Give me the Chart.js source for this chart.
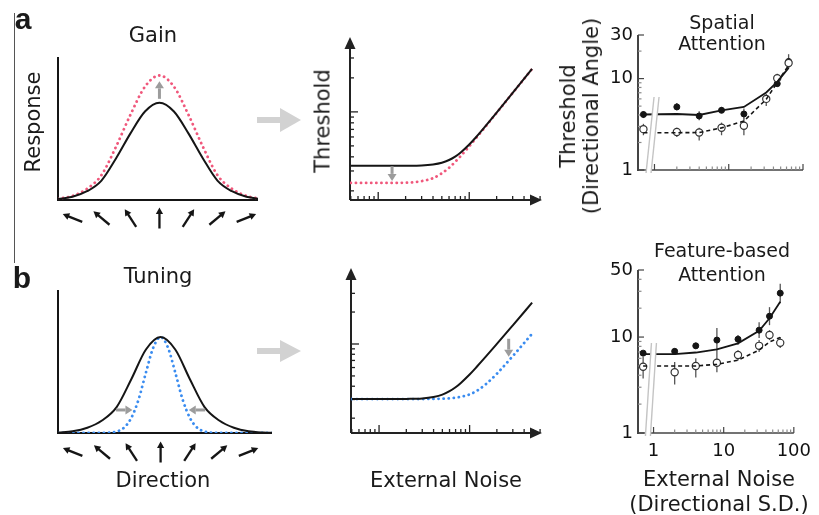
<!DOCTYPE html>
<html><head><meta charset="utf-8">
<script src="https://cdn.jsdelivr.net/npm/chart.js@4.4.1/dist/chart.umd.min.js"></script>
<style>
html,body{margin:0;padding:0;background:#fff;}
#wrap{position:relative;width:819px;height:515px;overflow:hidden;font-family:"DejaVu Sans",sans-serif;color:#1a1a1a;}
canvas{position:absolute;left:0;top:0;}
svg{position:absolute;left:0;top:0;}
.t{position:absolute;white-space:nowrap;transform:translate(-50%,-50%);line-height:1;font-size:21px;}
.s{font-size:19px;}
.r{transform:translate(-50%,-50%) rotate(-90deg);}
.p{font-family:"Liberation Sans",Arial,sans-serif;font-weight:bold;font-size:30px;}
.two{line-height:23px;text-align:center;}
</style></head><body><div id="wrap">
<svg width="819" height="515">
  <line x1="14.5" y1="13" x2="14.5" y2="263" stroke="#555" stroke-width="1"/>
  <polygon points="257,117 280,117 280,108 301,120 280,132 280,123 257,123" fill="#d2d2d2"/>
  <polygon points="257,348 280,348 280,340 301,351 280,362 280,354 257,354" fill="#d2d2d2"/>
</svg>
<canvas id="a1" width="819" height="515"></canvas>
<canvas id="b1" width="819" height="515"></canvas>
<canvas id="a2" width="819" height="515"></canvas>
<canvas id="b2" width="819" height="515"></canvas>
<canvas id="a3" width="819" height="515"></canvas>
<canvas id="b3" width="819" height="515"></canvas>

<div class="t p" style="left:23px;top:19px;">a</div>
<div class="t p" style="left:22px;top:278px;">b</div>
<div class="t" style="left:153px;top:35px;">Gain</div>
<div class="t r" style="left:33px;top:122px;">Response</div>
<div class="t r" style="left:323px;top:121px;">Threshold</div>
<div class="t s" style="left:722px;top:22px;">Spatial</div>
<div class="t s" style="left:722px;top:43px;">Attention</div>
<div class="t r two" style="left:580px;top:116px;">Threshold<br>(Directional Angle)</div>
<div class="t" style="left:158px;top:276px;">Tuning</div>
<div class="t" style="left:163px;top:480px;">Direction</div>
<div class="t" style="left:446px;top:480px;">External Noise</div>
<div class="t s" style="left:722px;top:250px;">Feature-based</div>
<div class="t s" style="left:722px;top:274px;">Attention</div>
<div class="t" style="left:719px;top:479px;">External Noise</div>
<div class="t" style="left:719px;top:504px;">(Directional S.D.)</div>
</div>
<script>
// ---------- data ----------
// motion directions shown under the tuning curves (position index, angle from vertical in deg)
const directionPos = [-3, -2, -1, 0, 1, 2, 3];
const directionAngles = [-68, -50, -33, 0, 33, 50, 68];

// a: gain model tuning curves
const gainX = [-3.5, -3, -2.5, -2, -1.5, -1, -0.5, 0, 0.5, 1, 1.5, 2, 2.5, 3, 3.5];
const gainNeutral = [0.01, 0.033, 0.09, 0.2, 0.427, 0.685, 0.91, 1, 0.91, 0.685, 0.427, 0.2, 0.09, 0.033, 0.01];
const gainAttended = [0.012, 0.042, 0.115, 0.256, 0.547, 0.877, 1.165, 1.28, 1.165, 0.877, 0.547, 0.256, 0.115, 0.042, 0.012];

// b: tuning model curves
const tuningX = [-3.5, -3, -2.5, -2, -1.5, -1, -0.5, 0, 0.5, 1, 1.5, 2, 2.5, 3, 3.5, 4];
const tuningNeutral = [0.005, 0.018, 0.055, 0.13, 0.27, 0.56, 0.87, 1, 0.87, 0.56, 0.27, 0.13, 0.055, 0.018, 0.005, 0.001];
const tuningSharpX = [-3.5, -2.5, -2, -1.75, -1.5, -1.25, -1, -0.75, -0.5, -0.25, 0, 0.25, 0.5, 0.75, 1, 1.25, 1.5, 1.75, 2, 2.5, 3.5, 4];
const tuningSharp = [0, 0, 0.001, 0.003, 0.015, 0.055, 0.157, 0.35, 0.63, 0.89, 1, 0.89, 0.63, 0.35, 0.157, 0.055, 0.015, 0.003, 0.001, 0, 0, 0];

// schematic threshold vs. external noise curves
const noiseSchematic = [0.5, 1, 2, 3, 4, 5, 6, 7, 8, 10, 12, 15, 20, 30, 49];
const threshGainNeutral = [0.333, 0.333, 0.334, 0.336, 0.343, 0.355, 0.375, 0.402, 0.435, 0.514, 0.602, 0.743, 0.983, 1.471, 2.40];
const threshGainAttended = [0.235, 0.235, 0.236, 0.244, 0.259, 0.286, 0.320, 0.361, 0.404, 0.496, 0.592, 0.737, 0.981, 1.47, 2.40];
const threshTuneNeutral = [0.303, 0.303, 0.304, 0.307, 0.317, 0.333, 0.359, 0.391, 0.430, 0.516, 0.610, 0.755, 1.002, 1.50, 2.45];
const threshTuneAttended = [0.303, 0.303, 0.303, 0.303, 0.304, 0.305, 0.308, 0.312, 0.318, 0.335, 0.362, 0.416, 0.525, 0.770, 1.25];
const schematicXTicks = [0.5, 0.6, 0.7, 0.8, 0.9, 1, 2, 3, 4, 5, 6, 7, 8, 9, 10, 20, 30, 40, 50, 60];
const schematicXMajor = [1, 10];
const schematicYTicks = [0.2, 0.3, 0.4, 0.5, 0.6, 0.7, 0.8, 0.9, 1, 2, 3];
const schematicYMajor = [1];

// measured thresholds (directional angle, deg) vs external noise (directional s.d.)
const noiseLevels = [0, 2, 4, 8, 16, 32, 45, 64];
const ZERO_POS = 0.71; // where the zero-noise condition sits, left of the axis break
const spatialUnatt = [4.05, 4.9, 3.9, 4.5, 4.1, null, 8.8, 15.4];
const spatialUnattLo = [3.7, 4.5, 3.5, 4.2, 3.6, null, 8.2, 13];
const spatialUnattHi = [4.4, 5.4, 4.4, 4.9, 4.7, null, 9.5, 18.5];
const spatialAtt = [2.8, 2.6, 2.57, 2.9, 3.05, 6.0, 10.1, 14.8];
const spatialAttLo = [2.4, 2.3, 2.1, 2.4, 2.4, 5.0, 9.0, 13];
const spatialAttHi = [3.2, 2.9, 2.9, 3.3, 3.65, 6.8, 11.3, 16.7];
const spatialFitUnatt = [4.05, 4.1, 4.0, 4.5, 4.9, 7.05, 9.2, 13.1];
const spatialFitAtt = [2.56, 2.56, 2.57, 2.89, 3.43, 5.94, 9.1, 14.0];

const featureUnatt = [6.8, 7.1, 8.1, 9.3, 9.5, 11.8, 16.5, 28.7];
const featureUnattLo = [6.4, 6.6, 7.5, 7.0, 8.3, 9.8, 13.3, 22.5];
const featureUnattHi = [7.2, 7.6, 8.7, 12.4, 10.5, 14.3, 20.5, 36];
const featureAtt = [4.9, 4.3, 5.0, 5.4, 6.5, 8.1, 10.5, 8.7];
const featureAttLo = [3.7, 3.2, 3.8, 4.3, 5.7, 7.0, 9.3, 7.7];
const featureAttHi = [6.2, 5.5, 6.0, 7.0, 7.3, 9.3, 11.8, 10];
const featureFitUnatt = [6.65, 6.65, 6.9, 7.45, 8.6, 11.6, 15.7, 23.3];
const featureFitAtt = [5.0, 5.0, 5.0, 5.2, 5.75, 7.3, 8.9, 9.9];

const dataXTicks = [2, 3, 4, 5, 6, 7, 8, 9, 20, 30, 40, 50, 60, 70, 80, 90];
const dataXMajor = [1, 10, 100];
const dataXLabels = [1, 10, 100];
const spatialYLabels = [1, 10, 30];
const spatialYMinor = [2, 3, 4, 5, 6, 7, 8, 9, 20];
const featureYLabels = [1, 10, 50];
const featureYMinor = [2, 3, 4, 5, 6, 7, 8, 9, 20, 30, 40];

// ---------- helpers ----------
const PINK = '#f0587c', BLUE = '#3a8cf0', INK = '#151515', ANN = '#9c9c9c';
const pts = (xs, ys) => xs.map((x, i) => ({x, y: ys[i]})).filter(p => p.y !== null);
const noiseX = n => (n === 0 ? ZERO_POS : n);
const dpts = ys => noiseLevels.map((n, i) => ({x: noiseX(n), y: ys[i]})).filter(p => p.y !== null);

function head(ctx, x, y, ang, len, hw) {
  ctx.save(); ctx.translate(x, y); ctx.rotate(ang);
  ctx.beginPath(); ctx.moveTo(0, 0); ctx.lineTo(-len, -hw); ctx.lineTo(-len, hw); ctx.closePath(); ctx.fill();
  ctx.restore();
}
function annArrow(ctx, x1, y1, x2, y2) {
  const ang = Math.atan2(y2 - y1, x2 - x1), hl = 7, hw = 4.5;
  ctx.save(); ctx.strokeStyle = ANN; ctx.fillStyle = ANN; ctx.lineWidth = 3;
  ctx.beginPath(); ctx.moveTo(x1, y1); ctx.lineTo(x2 - Math.cos(ang) * hl, y2 - Math.sin(ang) * hl); ctx.stroke();
  head(ctx, x2, y2, ang, hl, hw);
  ctx.restore();
}
function seg(ctx, x1, y1, x2, y2) { ctx.beginPath(); ctx.moveTo(x1, y1); ctx.lineTo(x2, y2); ctx.stroke(); }

const base = () => ({responsive: false, animation: false, devicePixelRatio: 1, events: [],
  plugins: {legend: {display: false}, tooltip: {enabled: false}}});
const pad = (l, t, r, b) => ({left: l, top: t, right: 819 - r, bottom: 515 - b});

function lineDs(data, color, dotted, width) {
  return {type: 'line', data, borderColor: color, borderWidth: width, pointRadius: 0, fill: false,
    borderDash: dotted ? [0.1, 5] : [], borderCapStyle: dotted ? 'round' : 'butt',
    cubicInterpolationMode: 'monotone', tension: 0};
}

// ---------- tuning panels (a1, b1) ----------
const tuningPlugin = {
  id: 'tuningDecor',
  beforeDatasetsDraw(chart, args, o) {
    const {ctx, chartArea: a, scales: {x}} = chart;
    ctx.save(); ctx.strokeStyle = INK; ctx.fillStyle = INK; ctx.lineWidth = 2;
    ctx.beginPath(); ctx.moveTo(a.left, a.top); ctx.lineTo(a.left, a.bottom); ctx.lineTo(a.right, a.bottom); ctx.stroke();
    ctx.lineWidth = 2.3;
    directionPos.forEach((p, i) => {
      const cx = x.getPixelForValue(p), cy = a.bottom + o.glyphOffset;
      const ang = directionAngles[i] * Math.PI / 180, L = 21;
      const dx = Math.sin(ang) * L / 2, dy = -Math.cos(ang) * L / 2;
      const tipx = cx + dx, tipy = cy + dy, dir = Math.atan2(dy, dx);
      seg(ctx, cx - dx, cy - dy, tipx - Math.cos(dir) * 4, tipy - Math.sin(dir) * 4);
      head(ctx, tipx, tipy, dir, 6.5, 3.6);
    });
    ctx.restore();
  },
  afterDatasetsDraw(chart, args, o) {
    const {ctx, scales: {x, y}} = chart;
    (o.vArrows || []).forEach(v => annArrow(ctx, x.getPixelForValue(v.x), y.getPixelForValue(v.from), x.getPixelForValue(v.x), y.getPixelForValue(v.to)));
    (o.hArrows || []).forEach(v => annArrow(ctx, x.getPixelForValue(v.from), y.getPixelForValue(v.y), x.getPixelForValue(v.to), y.getPixelForValue(v.y)));
  }
};

new Chart(document.getElementById('a1'), {
  type: 'scatter',
  data: {datasets: [
    lineDs(pts(gainX, gainNeutral), INK, false, 2),
    lineDs(pts(gainX, gainAttended), PINK, true, 2.8)
  ]},
  options: Object.assign(base(), {
    layout: {padding: pad(58, 57, 258, 200)},
    scales: {x: {type: 'linear', display: false, min: -3.5, max: 3.4}, y: {type: 'linear', display: false, min: 0, max: 1.47}},
    plugins: {legend: {display: false}, tooltip: {enabled: false},
      tuningDecor: {glyphOffset: 18, vArrows: [{x: 0, from: 1.04, to: 1.22}]}}
  }),
  plugins: [tuningPlugin]
});

new Chart(document.getElementById('b1'), {
  type: 'scatter',
  data: {datasets: [
    lineDs(pts(tuningX, tuningNeutral), INK, false, 2),
    lineDs(pts(tuningSharpX, tuningSharp), BLUE, true, 2.8)
  ]},
  options: Object.assign(base(), {
    layout: {padding: pad(58, 290, 272, 433)},
    scales: {x: {type: 'linear', display: false, min: -3.5, max: 3.8}, y: {type: 'linear', display: false, min: 0, max: 1.49}},
    plugins: {legend: {display: false}, tooltip: {enabled: false},
      tuningDecor: {glyphOffset: 19, hArrows: [{y: 0.24, from: -1.52, to: -0.96}, {y: 0.24, from: 1.52, to: 0.96}]}}
  }),
  plugins: [tuningPlugin]
});

// ---------- schematic threshold panels (a2, b2) ----------
const schemPlugin = {
  id: 'schemDecor',
  beforeDatasetsDraw(chart, args, o) {
    const {ctx, chartArea: a, scales: {x, y}} = chart;
    ctx.save(); ctx.strokeStyle = '#222'; ctx.fillStyle = '#222'; ctx.lineWidth = 2;
    seg(ctx, a.left, a.bottom, a.left, a.top + 9);
    seg(ctx, a.left, a.bottom, a.right - 9, a.bottom);
    head(ctx, a.left, a.top, -Math.PI / 2, 12, 5.5);
    head(ctx, a.right, a.bottom, 0, 12, 5.5);
    ctx.lineWidth = 1.3;
    schematicYTicks.forEach(v => {
      const py = y.getPixelForValue(v), len = schematicYMajor.includes(v) ? 8 : 4;
      seg(ctx, a.left, py, a.left + len, py);
    });
    schematicXTicks.forEach(v => {
      const px = x.getPixelForValue(v), len = schematicXMajor.includes(v) ? 8 : 4;
      seg(ctx, px, a.bottom, px, a.bottom - len);
    });
    ctx.restore();
  },
  afterDatasetsDraw(chart, args, o) {
    const {ctx, scales: {x, y}} = chart;
    o.arrows.forEach(v => annArrow(ctx, x.getPixelForValue(v.x), y.getPixelForValue(v.from), x.getPixelForValue(v.x), y.getPixelForValue(v.to)));
  }
};

function schemChart(id, padding, ymin, ymax, neutral, attended, color, arrows) {
  new Chart(document.getElementById(id), {
    type: 'scatter',
    data: {datasets: [
      lineDs(pts(noiseSchematic, neutral), INK, false, 2),
      lineDs(pts(noiseSchematic, attended), color, true, 2.8)
    ]},
    options: Object.assign(base(), {
      layout: {padding},
      scales: {x: {type: 'logarithmic', display: false, min: 0.49, max: 63},
               y: {type: 'logarithmic', display: false, min: ymin, max: ymax}},
      plugins: {legend: {display: false}, tooltip: {enabled: false}, schemDecor: {arrows}}
    }),
    plugins: [schemPlugin]
  });
}
schemChart('a2', pad(350, 37, 542, 200), 0.166, 4.6, threshGainNeutral, threshGainAttended, PINK, [{x: 1.42, from: 0.33, to: 0.245}]);
schemChart('b2', pad(351, 268, 542, 433), 0.145, 5.2, threshTuneNeutral, threshTuneAttended, BLUE, [{x: 27, from: 1.12, to: 0.76}]);

// ---------- data panels (a3, b3) ----------
const dataPlugin = {
  id: 'dataDecor',
  beforeDatasetsDraw(chart, args, o) {
    const {ctx, chartArea: a, scales: {x, y}} = chart;
    ctx.save();
    ctx.strokeStyle = '#444'; ctx.lineWidth = 2;
    seg(ctx, a.left, a.top, a.left, a.bottom + 1);
    ctx.lineWidth = 1.4;
    seg(ctx, a.left, a.bottom, a.right, a.bottom);
    ctx.lineWidth = 1.2;
    o.yLabels.forEach(v => { const py = y.getPixelForValue(v); seg(ctx, a.left, py, a.left + 6, py); });
    dataXMajor.forEach(v => { const px = x.getPixelForValue(v); seg(ctx, px, a.bottom, px, a.bottom - 6); });
    ctx.strokeStyle = '#8a8a8a';
    o.yMinor.forEach(v => { const py = y.getPixelForValue(v); seg(ctx, a.left, py, a.left + 3.5, py); });
    dataXTicks.forEach(v => { const px = x.getPixelForValue(v); seg(ctx, px, a.bottom, px, a.bottom - 3.5); });
    // error bars
    ctx.strokeStyle = '#555'; ctx.lineWidth = 1.3;
    o.errors.forEach(set => set.lo.forEach((lo, i) => {
      if (lo === null) return;
      const px = x.getPixelForValue(noiseX(noiseLevels[i]));
      seg(ctx, px, y.getPixelForValue(lo), px, y.getPixelForValue(set.hi[i]));
    }));
    ctx.restore();
  },
  afterDatasetsDraw(chart, args, o) {
    const {ctx, chartArea: a, scales: {x}} = chart;
    const bx = x.getPixelForValue(o.breakAt), b = a.bottom + 3, h = o.slashH, d = o.slashDx;
    ctx.save();
    ctx.fillStyle = '#fff';
    ctx.beginPath(); ctx.moveTo(bx - 3, b); ctx.lineTo(bx + 2, b); ctx.lineTo(bx + 2 + d, b - h); ctx.lineTo(bx - 3 + d, b - h); ctx.closePath(); ctx.fill();
    ctx.strokeStyle = '#c4c4c4'; ctx.lineWidth = 1.4;
    seg(ctx, bx - 3, b, bx - 3 + d, b - h);
    seg(ctx, bx + 2, b, bx + 2 + d, b - h);
    ctx.restore();
  }
};

const near = (v, list) => list.some(l => Math.abs(v - l) < 1e-6 * l);
function dataChart(id, padding, ymax, yLabels, yMinor, showX, fitU, fitA, un, unLo, unHi, at, atLo, atHi, slashH, slashDx) {
  new Chart(document.getElementById(id), {
    type: 'scatter',
    data: {datasets: [
      {type: 'line', data: dpts(fitU), borderColor: INK, borderWidth: 1.8, pointRadius: 0, tension: 0},
      {type: 'line', data: dpts(fitA), borderColor: INK, borderWidth: 1.6, borderDash: [4, 3], pointRadius: 0, tension: 0},
      {data: dpts(at), pointRadius: 3.6, pointBackgroundColor: '#fff', pointBorderColor: '#333', pointBorderWidth: 1.2},
      {data: dpts(un), pointRadius: 3, pointBackgroundColor: INK, pointBorderColor: INK, pointBorderWidth: 1}
    ]},
    options: Object.assign(base(), {
      layout: {padding},
      scales: {
        x: {type: 'logarithmic', min: 0.61, max: 100, display: showX,
            afterFit: s => { s.height = 30; },
            grid: {display: false, drawTicks: false}, border: {display: false},
            ticks: {autoSkip: false, maxRotation: 0, padding: 8, color: '#111', font: {family: 'DejaVu Sans', size: 18},
                    callback: v => near(v, dataXLabels) ? String(Math.round(v)) : null}},
        y: {type: 'logarithmic', min: 1, max: ymax,
            afterFit: s => { s.width = 40; },
            grid: {display: false, drawTicks: false}, border: {display: false},
            ticks: {autoSkip: false, padding: 5, color: '#111', font: {family: 'DejaVu Sans', size: 18},
                    callback: v => near(v, yLabels) ? String(Math.round(v)) : null}}
      },
      plugins: {legend: {display: false}, tooltip: {enabled: false},
        dataDecor: {yLabels, yMinor, breakAt: 0.845, slashH, slashDx,
          errors: [{lo: unLo, hi: unHi}, {lo: atLo, hi: atHi}]}}
    }),
    plugins: [dataPlugin]
  });
}
dataChart('a3', pad(598, 35, 803, 200), 30, spatialYLabels, spatialYMinor, false,
  spatialFitUnatt, spatialFitAtt, spatialUnatt, spatialUnattLo, spatialUnattHi, spatialAtt, spatialAttLo, spatialAttHi, 76, 8);
dataChart('b3', pad(598, 270, 803, 463), 50, featureYLabels, featureYMinor, true,
  featureFitUnatt, featureFitAtt, featureUnatt, featureUnattLo, featureUnattHi, featureAtt, featureAttLo, featureAttHi, 93, 6);
</script>
</body></html>
